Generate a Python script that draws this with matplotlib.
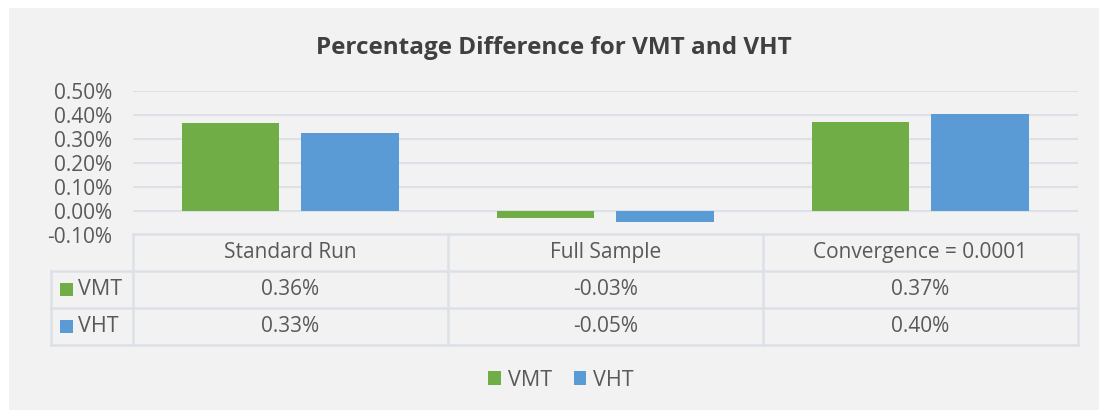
import numpy as np
import matplotlib.pyplot as plt
from matplotlib.patches import Rectangle, Patch

# Data (percent)
categories = ['Standard Run', 'Full Sample', 'Convergence = 0.0001']
series_names = ['VMT', 'VHT']
vmt = [0.364, -0.032, 0.368]
vht = [0.325, -0.046, 0.403]
colors = ['#70AD47', '#5B9BD5']
yticks = [-0.1, 0.0, 0.1, 0.2, 0.3, 0.4, 0.5]

W, H = 1099, 411
plt.rcParams['font.family'] = ['Open Sans', 'DejaVu Sans']
txt = '#595959'
line_c = '#DCE1E8'

fig = plt.figure(figsize=(W / 100, H / 100), dpi=100)
fig.patch.set_facecolor('white')
# chart area background
fig.add_artist(Rectangle((9 / W, 1 - 410 / H), (W - 9) / W, (410 - 8) / H,
                         transform=fig.transFigure, facecolor='#F2F2F2',
                         edgecolor='none', zorder=0))

def fx(px):
    return px / W

def fy(py):
    return 1 - py / H

# main plot area
x0, x1, ytop, ybot = 132.7, 1077.7, 90.7, 234.7
ax = fig.add_axes([fx(x0), fy(ybot), fx(x1 - x0), (ybot - ytop) / H])
ax.set_facecolor('none')
x = np.arange(len(categories))
bw = 0.31
ax.bar(x - 0.19, vmt, bw, color=colors[0], zorder=3)
ax.bar(x + 0.19, vht, bw, color=colors[1], zorder=3)
ax.set_xlim(-0.5, len(categories) - 0.5)
ax.set_ylim(-0.1, 0.5)
ax.set_yticks(yticks)
ax.set_yticklabels([f'{v:.2f}%' for v in yticks])
ax.tick_params(axis='y', length=0, pad=15, labelsize=15, labelcolor=txt)
ax.set_xticks([])
for s in ax.spines.values():
    s.set_visible(False)
ax.grid(axis='y', color=line_c, lw=1.5, zorder=0)

fig.text(fx(554), fy(54), 'Percentage Difference for VMT and VHT', ha='center', va='baseline',
         fontsize=17.5, fontweight='bold', color='#404040')

# data table
tab = fig.add_axes([0, 0, 1, 1])
tab.set_xlim(0, W)
tab.set_ylim(H, 0)
tab.axis('off')
tab.patch.set_visible(False)
lx = 51
rows_y = [234.3, 270.7, 308, 345]
col_x = [x0 + i * (x1 - x0) / 3 for i in range(4)]
lw = 1.8
tab.plot([x0, x1], [rows_y[0]] * 2, color=line_c, lw=lw)
for yy in rows_y[1:]:
    tab.plot([lx, x1], [yy] * 2, color=line_c, lw=lw)
tab.plot([lx, lx], [rows_y[1], rows_y[3]], color=line_c, lw=lw)
for cx in col_x:
    tab.plot([cx, cx], [rows_y[0], rows_y[3]], color=line_c, lw=lw)

for i, cat in enumerate(categories):
    cx = (col_x[i] + col_x[i + 1]) / 2
    tab.text(cx, (rows_y[0] + rows_y[1]) / 2, cat, ha='center', va='center',
             fontsize=15, color=txt)
    for r, vals in enumerate([vmt, vht]):
        tab.text(cx, (rows_y[r + 1] + rows_y[r + 2]) / 2, f'{vals[i]:.2f}%',
                 ha='center', va='center', fontsize=15, color=txt)

for r, name in enumerate(series_names):
    cy = (rows_y[r + 1] + rows_y[r + 2]) / 2
    tab.add_patch(Rectangle((60, cy - 6.3), 12.7, 12.7, facecolor=colors[r], edgecolor='none'))
    tab.text(78, cy, name, ha='left', va='center', fontsize=15.5, color=txt)

handles = [Patch(facecolor=c, edgecolor='none', label=n) for c, n in zip(colors, series_names)]
fig.legend(handles=handles, loc='center', bbox_to_anchor=(fx(561), fy(380)), ncol=2,
           frameon=False, fontsize=15.5, labelcolor=txt, handlelength=0.6, handleheight=0.6,
           handletextpad=0.3, columnspacing=1.0)

fig.savefig('out.png', dpi=100, facecolor=fig.get_facecolor())
